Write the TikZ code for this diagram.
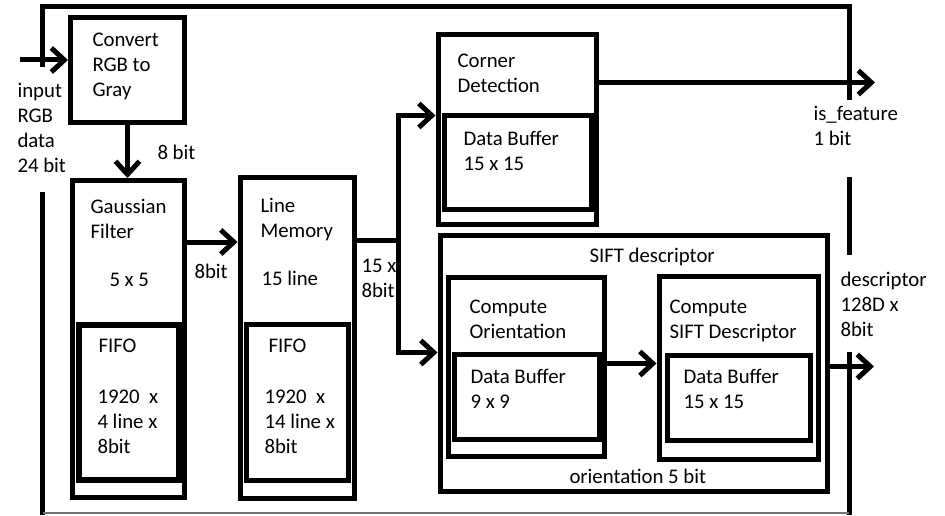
\documentclass[tikz,border=0pt]{standalone}
\usepackage{fontspec}
\setmainfont{Carlito}
\usetikzlibrary{arrows.meta}

\begin{document}
\begin{tikzpicture}[x=1pt, y=-1pt, line width=5pt,
		blk/.style={draw, line width=5pt, inner sep=0pt, anchor=north west},
		txt/.style={inner sep=0pt, anchor=base west, align=left, font=\fontsize{20.8}{25}\selectfont},
		arr/.style={-{Straight Barb[length=13pt, width=24pt]}}]
		\useasboundingbox (0,0) rectangle (945,516);
		% outer frame
		\draw (42.5,67) -- (42.5,7) -- (849,7) -- (849,100);
		\draw (849,177) -- (849,255);
		\draw (849,352) -- (849,515);
		\draw (42.5,192) -- (42.5,515);
		\draw[line width=1.5pt, black!55] (42.5,513) -- (849,513);
		% blocks
		\node[blk, minimum width=114, minimum height=105] (conv) at (68,15) {};
		\node[blk, minimum width=112, minimum height=317] (gauss) at (70,178) {};
		\node[blk, line width=6pt, minimum width=99.5, minimum height=155] (gfifo) at (76,322) {};
		\node[blk, minimum width=114, minimum height=320.5] (lmem) at (237.5,175) {};
		\node[blk, minimum width=101.5, minimum height=155.5] (lfifo) at (244,322) {};
		\node[blk, minimum width=158, minimum height=190] (corner) at (435.5,32) {};
		\node[blk, minimum width=147, minimum height=93.5] (cbuf) at (441.5,113.5) {};
		\node[blk, minimum width=387.5, minimum height=255.5] (sift) at (437.5,233) {};
		\node[blk, minimum width=156.5, minimum height=179] (orient) at (445.5,274.5) {};
		\node[blk, minimum width=144.5, minimum height=85.5] (obuf) at (452,351.5) {};
		\node[blk, minimum width=159, minimum height=183.5] (desc) at (656.5,273.5) {};
		\node[blk, minimum width=143, minimum height=84.5] (dbuf) at (664.5,353) {};
		% texts (placed at the baseline of their last line)
		\node[txt] (inlbl) at (15,172) {input\\RGB\\data\\24 bit};
		\node[txt] (convlbl) at (90,97) {Convert\\RGB to\\Gray};
		\node[txt] (c2glbl) at (155,160) {8 bit};
		\node[txt] (gausslbl) at (88,238) {Gaussian\\Filter};
		\node[txt] (gausssize) at (107,286) {5 x 5};
		\node[txt] (g2llbl) at (192,278) {8bit};
		\node[txt] (gfifolbl) at (96,352) {FIFO};
		\node[txt] (gfifosize) at (95,453) {1920\ \ x\\4 line x\\8bit};
		\node[txt] (lmemlbl) at (258,237) {Line\\Memory};
		\node[txt] (lmemsize) at (259,285) {15 line};
		\node[txt] (lfifolbl) at (266,352) {FIFO};
		\node[txt] (lfifosize) at (262,453) {1920\ \ x\\14 line x\\8bit};
		\node[txt] (splitlbl) at (359,297) {15 x\\8bit};
		\node[txt] (cornerlbl) at (455,93) {Corner\\Detection};
		\node[txt] (cbuflbl) at (461,171) {Data Buffer\\15 x 15};
		\node[txt] (featlbl) at (811,146) {is\_feature\\1 bit};
		\node[txt] (siftlbl) at (587,262) {SIFT descriptor};
		\node[txt] (orientlbl) at (467,338) {Compute\\Orientation};
		\node[txt] (obuflbl) at (468,408) {Data Buffer\\9 x 9};
		\node[txt] (desclbl) at (667,338) {Compute\\SIFT Descriptor};
		\node[txt] (dbuflbl) at (681,408) {Data Buffer\\15 x 15};
		\node[txt] (o2dlbl) at (567,483) {orientation 5 bit};
		\node[txt] (outlbl) at (838,336) {descriptor\\128D x\\8bit};
		% connectors
		\coordinate (in) at (20,60);
		\coordinate (split) at (398.5,240.5);
		\coordinate (featout) at (875,82.5);
		\coordinate (descout) at (874,366.5);
		\draw[arr] (in) -- (conv.west |- in);
		\draw[arr] (conv.south) -- (conv.south |- gauss.north);
		\draw[arr] (gauss.east |- 0,242) -- (lmem.west |- 0,242);
		\draw (lmem.east |- split) -- (split);
		\draw[arr] (split) |- (corner.west |- 0,115.5);
		\draw[arr] (split) |- (sift.west |- 0,352.5);
		\draw[arr] (corner.east |- featout) -- (featout);
		\draw[arr] (orient.east |- 0,363.5) -- (desc.west |- 0,363.5);
		\draw[arr] (sift.east |- descout) -- (descout);
	\end{tikzpicture}
\end{document}
